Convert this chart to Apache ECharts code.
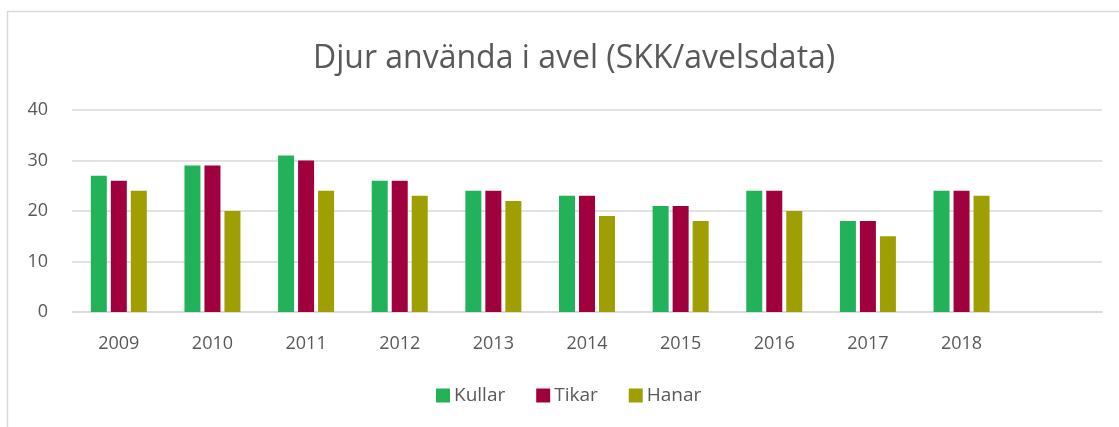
<!DOCTYPE html>
<html>
<head>
<meta charset="utf-8">
<script src="https://cdn.jsdelivr.net/npm/echarts@6/dist/echarts.min.js"></script>
<style>
  html, body { margin: 0; padding: 0; background: #fff; }
  #main { width: 1119px; height: 427px; }
</style>
</head>
<body>
<div id="main"></div>
<script>
// år (sista kategorin är tom i originalet)
const years = ['2009', '2010', '2011', '2012', '2013', '2014', '2015', '2016', '2017', '2018', '']
const kullar = [27, 29, 31, 26, 24, 23, 21, 24, 18, 24, null]
const tikar = [26, 29, 30, 26, 24, 23, 21, 24, 18, 24, null]
const hanar = [24, 20, 24, 23, 22, 19, 18, 20, 15, 23, null]
const yTicks = [0, 10, 20, 30, 40]

const font = '"Open Sans", "Noto Sans", sans-serif'
const textColor = '#595959'

function bar (name, data, color) {
  return {
    name: name,
    type: 'bar',
    data: data,
    barWidth: 16,
    barGap: '25%',
    itemStyle: { color: color },
    emphasis: { disabled: true }
  }
}

const option = {
  animation: false,
  title: {
    text: 'Djur använda i avel (SKK/avelsdata)',
    left: 308,
    top: 38,
    textStyle: { fontFamily: font, fontSize: 32, fontWeight: 'normal', color: textColor }
  },
  legend: {
    bottom: 17,
    left: 431,
    itemWidth: 14,
    itemHeight: 14,
    itemGap: 31,
    icon: 'rect',
    textStyle: { fontFamily: font, fontSize: 19, color: textColor, padding: [0, 0, 0, -1] }
  },
  grid: { left: 72, right: 17, top: 110, bottom: 115 },
  xAxis: {
    type: 'category',
    data: years,
    axisTick: { show: false },
    axisLine: { lineStyle: { color: '#d9d9d9', width: 1.5 } },
    axisLabel: { fontFamily: font, fontSize: 18, color: textColor, margin: 23 }
  },
  yAxis: {
    type: 'value',
    min: yTicks[0],
    max: yTicks[yTicks.length - 1],
    interval: 10,
    axisLine: { show: false },
    axisTick: { show: false },
    splitLine: { lineStyle: { color: '#d9d9d9', width: 1.5 } },
    axisLabel: { fontFamily: font, fontSize: 18, color: textColor, margin: 24 }
  },
  graphic: [{
    type: 'polyline',
    shape: { points: [[7.5, 427], [7.5, 11.5], [1119, 11.5]] },
    style: { stroke: '#d9d9d9', lineWidth: 1.5, fill: null }
  }],
  series: [
    bar('Kullar', kullar, '#22b35a'),
    bar('Tikar', tikar, '#a0003e'),
    bar('Hanar', hanar, '#9f9f04')
  ]
}

const myChart = echarts.init(document.getElementById('main'))
myChart.setOption(option)
</script>
</body>
</html>
